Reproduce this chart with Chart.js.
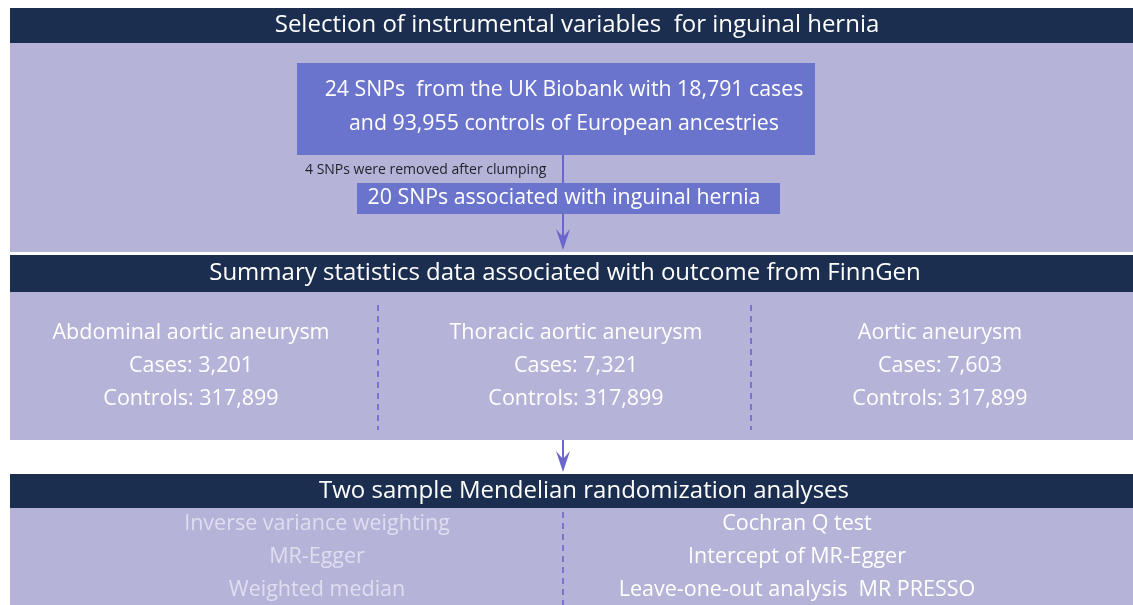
<!DOCTYPE html>
<html>
<head>
<meta charset="utf-8">
<script src="https://cdn.jsdelivr.net/npm/chart.js@4"></script>
<style>
  html, body { margin: 0; padding: 0; background: #ffffff; }
  #flow { display: block; }
</style>
</head>
<body>
<canvas id="flow" width="1133" height="605"></canvas>
<script>
const stepTitles = [
  "Selection of instrumental variables  for inguinal hernia",
  "Summary statistics data associated with outcome from FinnGen",
  "Two sample Mendelian randomization analyses"
];
const exposureLines = [
  "24 SNPs  from the UK Biobank with 18,791 cases",
  "and 93,955 controls of European ancestries"
];
const clumpingNote = "4 SNPs were removed after clumping";
const selectedSnps = "20 SNPs associated with inguinal hernia";
const outcomes = ["Abdominal aortic aneurysm", "Thoracic aortic aneurysm", "Aortic aneurysm"];
const caseCounts = [3201, 7321, 7603];
const controlCounts = [317899, 317899, 317899];
const mrMethods = ["Inverse variance weighting", "MR-Egger", "Weighted median"];
const sensitivityTests = ["Cochran Q test", "Intercept of MR-Egger", "Leave-one-out analysis  MR PRESSO"];

// layout in diagram units (same as pixels, y grows downward)
const layout = {
  headers: [[8, 43], [255, 292], [474, 508]],
  headerCenters: [577, 565, 584],
  panels: [[43, 252], [292, 440], [508, 605]],
  left: 10,
  right: 1133,
  exposureBox: [297, 63, 815, 155],
  selectedBox: [357, 183, 780, 214],
  outcomeCenters: [191, 576, 940],
  outcomeRows: [333, 366, 399],
  analysisCenters: [317, 797],
  analysisRows: [524, 557, 590]
};

const colors = {
  navy: "#1b2e4f",
  panel: "#b5b3d7",
  box: "#6b74cc",
  arrow: "#6b66cc",
  dash: "#7b72d2",
  text: "#ffffff",
  faint: "#dfdef0",
  note: "#1f1f2a"
};

const font = (size) => `${size}px "Open Sans", Lato, sans-serif`;

function fillRect(chart, x0, y0, x1, y1, color) {
  const { x, y } = chart.scales;
  const ctx = chart.ctx;
  const px0 = x.getPixelForValue(x0);
  const py0 = y.getPixelForValue(y0);
  ctx.fillStyle = color;
  ctx.fillRect(px0, py0, x.getPixelForValue(x1) - px0, y.getPixelForValue(y1) - py0);
}

function drawText(chart, text, cx, cy, size, color, align) {
  const { x, y } = chart.scales;
  const ctx = chart.ctx;
  ctx.font = font(size);
  ctx.fillStyle = color;
  ctx.textAlign = align || "center";
  ctx.textBaseline = "middle";
  ctx.fillText(text, x.getPixelForValue(cx), y.getPixelForValue(cy));
}

function drawArrowHead(chart, cx, tipY) {
  const { x, y } = chart.scales;
  const ctx = chart.ctx;
  const px = x.getPixelForValue(cx);
  const tip = y.getPixelForValue(tipY);
  ctx.fillStyle = colors.arrow;
  ctx.beginPath();
  ctx.moveTo(px, tip);
  ctx.lineTo(px - 7, tip - 21);
  ctx.lineTo(px, tip - 13);
  ctx.lineTo(px + 7, tip - 21);
  ctx.closePath();
  ctx.fill();
}

const blocksPlugin = {
  id: "blocks",
  beforeDatasetsDraw(chart) {
    layout.panels.forEach(([top, bottom]) => {
      fillRect(chart, layout.left, top, layout.right, bottom, colors.panel);
    });
    layout.headers.forEach(([top, bottom]) => {
      fillRect(chart, layout.left, top, layout.right, bottom, colors.navy);
    });
    const [bx0, by0, bx1, by1] = layout.exposureBox;
    fillRect(chart, bx0, by0, bx1, by1, colors.box);
  },
  afterDatasetsDraw(chart) {
    const [sx0, sy0, sx1, sy1] = layout.selectedBox;
    fillRect(chart, sx0, sy0, sx1, sy1, colors.box);
    drawArrowHead(chart, 563, 250);
    drawArrowHead(chart, 563, 472);

    layout.headers.forEach(([top, bottom], i) => {
      drawText(chart, stepTitles[i], layout.headerCenters[i], (top + bottom) / 2, 24, colors.text);
    });

    drawText(chart, exposureLines[0], 564, 90, 21.3, colors.text);
    drawText(chart, exposureLines[1], 564, 124, 21.3, colors.text);
    drawText(chart, clumpingNote, 305, 170, 14, colors.note, "left");
    drawText(chart, selectedSnps, 564, 198, 21.3, colors.text);

    outcomes.forEach((name, i) => {
      const cx = layout.outcomeCenters[i];
      drawText(chart, name, cx, layout.outcomeRows[0], 21.5, colors.text);
      drawText(chart, "Cases: " + caseCounts[i].toLocaleString("en-US"), cx, layout.outcomeRows[1], 21.5, colors.text);
      drawText(chart, "Controls: " + controlCounts[i].toLocaleString("en-US"), cx, layout.outcomeRows[2], 21.5, colors.text);
    });

    mrMethods.forEach((name, i) => {
      drawText(chart, name, layout.analysisCenters[0], layout.analysisRows[i], 21.5, colors.faint);
    });
    sensitivityTests.forEach((name, i) => {
      drawText(chart, name, layout.analysisCenters[1], layout.analysisRows[i], 21.5, colors.text);
    });
  }
};

const connector = (points, color, dash) => ({
  type: "line",
  data: points,
  borderColor: color,
  borderWidth: 2,
  borderDash: dash || [],
  pointRadius: 0,
  showLine: true,
  fill: false
});

new Chart(document.getElementById("flow"), {
  type: "scatter",
  data: {
    datasets: [
      connector([{ x: 563, y: 155 }, { x: 563, y: 240 }], colors.arrow),
      connector([{ x: 563, y: 440 }, { x: 563, y: 462 }], colors.arrow),
      connector([{ x: 378, y: 305 }, { x: 378, y: 430 }], colors.dash, [6, 5]),
      connector([{ x: 751, y: 305 }, { x: 751, y: 430 }], colors.dash, [6, 5]),
      connector([{ x: 563, y: 512 }, { x: 563, y: 605 }], colors.dash, [6, 5])
    ]
  },
  options: {
    responsive: false,
    devicePixelRatio: 1,
    animation: false,
    layout: { padding: 0 },
    plugins: {
      legend: { display: false },
      tooltip: { enabled: false }
    },
    scales: {
      x: { type: "linear", min: 0, max: 1133, display: false },
      y: { type: "linear", min: 0, max: 605, reverse: true, display: false }
    }
  },
  plugins: [blocksPlugin]
});
</script>
</body>
</html>
